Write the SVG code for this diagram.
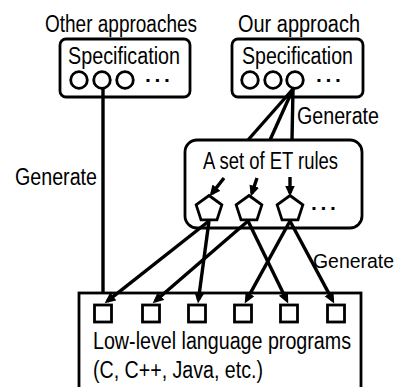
<svg xmlns="http://www.w3.org/2000/svg" width="400" height="387" viewBox="0 0 400 387">
<style>
.t{font-family:"Liberation Sans",Arial,Helvetica,sans-serif;font-size:23px;fill:#000}
.d{font-family:"Liberation Sans",Arial,sans-serif;font-size:21px;font-weight:bold;fill:#000}
.box{fill:#fff;stroke:#000;stroke-width:2.8}
.sh{fill:#fff;stroke:#000;stroke-width:2.8}
.ln{fill:none;stroke:#000;stroke-width:3.4}
.ar{fill:none;stroke:#000;stroke-width:3.4;marker-end:url(#ah)}
</style>
<defs>
<marker id="ah" markerUnits="userSpaceOnUse" markerWidth="12" markerHeight="11" refX="7.5" refY="5" orient="auto">
<path d="M0,0 L11,5 L0,10 Z" fill="#000"/>
</marker>
<path id="pent" d="M0,-13.5 L12.84,-4.17 L7.94,10.92 L-7.94,10.92 L-12.84,-4.17 Z"/>
</defs>
<rect width="400" height="387" fill="#fff"/>

<text class="t" x="45" y="32" textLength="152" lengthAdjust="spacingAndGlyphs">Other approaches</text>
<text class="t" x="238" y="32" textLength="122" lengthAdjust="spacingAndGlyphs">Our approach</text>

<g id="left-spec">
<rect class="box" x="60" y="39" width="130" height="58" rx="6"/>
<text class="t" x="68" y="64" textLength="112" lengthAdjust="spacingAndGlyphs">Specification</text>
<circle class="sh" cx="79" cy="80" r="8.3"/>
<circle class="sh" cx="102" cy="80" r="8.3"/>
<circle class="sh" cx="125" cy="80" r="8.3"/>
<text class="d" x="145" y="87" textLength="26" lengthAdjust="spacing">···</text>
</g>

<g id="right-spec">
<rect class="box" x="232" y="39" width="131" height="58" rx="6"/>
<text class="t" x="242" y="64" textLength="111" lengthAdjust="spacingAndGlyphs">Specification</text>
<circle class="sh" cx="250" cy="80" r="8.3"/>
<circle class="sh" cx="273" cy="80" r="8.3"/>
<circle class="sh" cx="295" cy="80" r="8.3"/>
<text class="d" x="316" y="87" textLength="26" lengthAdjust="spacing">···</text>
</g>

<g id="connectors">
<line class="ar" x1="103" y1="89" x2="103" y2="300"/>
<line class="ln" x1="293" y1="89" x2="248" y2="140"/>
<line class="ln" x1="293" y1="89" x2="270" y2="140"/>
<line class="ln" x1="293" y1="89" x2="292" y2="140"/>
</g>

<g id="et-rules">
<rect class="box" x="185" y="140" width="177" height="88" rx="12"/>
<text class="t" x="203" y="169" textLength="135" lengthAdjust="spacingAndGlyphs">A set of ET rules</text>
<line class="ar" x1="224" y1="178" x2="211.8" y2="193.6"/>
<line class="ar" x1="257" y1="178" x2="251.9" y2="193.2"/>
<line class="ar" x1="290" y1="177" x2="290" y2="193"/>
<use href="#pent" class="sh" x="209" y="209"/>
<use href="#pent" class="sh" x="249" y="209"/>
<use href="#pent" class="sh" x="290" y="209"/>
<text class="d" x="311" y="215" textLength="26" lengthAdjust="spacing">···</text>
</g>

<g id="programs">
<rect class="box" x="79" y="293" width="282" height="110"/>
<rect class="sh" x="94.5" y="305" width="17" height="17"/>
<rect class="sh" x="142.5" y="305" width="17" height="17"/>
<rect class="sh" x="188.5" y="305" width="17" height="17"/>
<rect class="sh" x="234.5" y="305" width="17" height="17"/>
<rect class="sh" x="280.5" y="305" width="17" height="17"/>
<rect class="sh" x="327.5" y="305" width="17" height="17"/>
<text class="t" x="93" y="349" textLength="258" lengthAdjust="spacingAndGlyphs">Low-level language programs</text>
<text class="t" x="93" y="378" textLength="170" lengthAdjust="spacingAndGlyphs">(C, C++, Java, etc.)</text>
</g>

<g id="connectors-bottom">
<line class="ar" x1="209" y1="221" x2="107.4" y2="301.1"/>
<line class="ar" x1="209" y1="221" x2="198.4" y2="300"/>
<line class="ar" x1="248" y1="221" x2="155.3" y2="301"/>
<line class="ar" x1="248" y1="221" x2="286.7" y2="300.3"/>
<line class="ar" x1="290" y1="221" x2="246.4" y2="300.4"/>
<line class="ar" x1="290" y1="221" x2="332.6" y2="300.4"/>
</g>

<g id="labels">
<text class="t" x="297" y="124" textLength="82" lengthAdjust="spacingAndGlyphs">Generate</text>
<text class="t" x="15" y="185" textLength="82" lengthAdjust="spacingAndGlyphs">Generate</text>
<text class="t" x="313" y="268" style="font-size:20.5px" textLength="81" lengthAdjust="spacingAndGlyphs">Generate</text>
</g>
</svg>
